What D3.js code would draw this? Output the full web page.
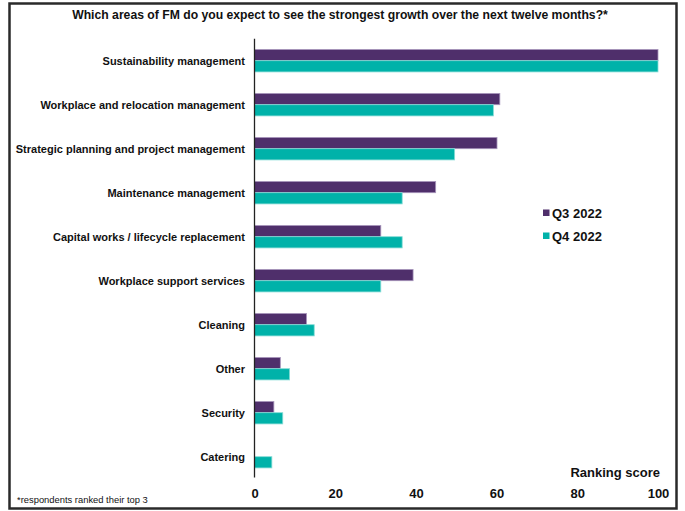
<!DOCTYPE html>
<html>
<head>
<meta charset="utf-8">
<script src="https://cdn.jsdelivr.net/npm/d3@7/dist/d3.min.js"></script>
<style>
  html, body { margin: 0; padding: 0; background: #fff; }
  svg { display: block; }
  text { font-family: "Liberation Sans", Arial, sans-serif; fill: #111; }
</style>
</head>
<body>
<svg id="chart" width="685" height="511"></svg>
<script>
// Survey areas, top to bottom
const categories = [
  "Sustainability management",
  "Workplace and relocation management",
  "Strategic planning and project management",
  "Maintenance management",
  "Capital works / lifecycle replacement",
  "Workplace support services",
  "Cleaning",
  "Other",
  "Security",
  "Catering"
];
const seriesNames = ["Q3 2022", "Q4 2022"];
const q3Values = [100, 60.8, 60.1, 44.9, 31.3, 39.3, 12.9, 6.4, 4.8, 0];
const q4Values = [100, 59.2, 49.6, 36.6, 36.6, 31.3, 14.8, 8.7, 7.0, 4.3];
const xTicks = [0, 20, 40, 60, 80, 100];

const colors = ["#4f2f6b", "#00b2a9"];
const edgeColors = ["#a795bb", "#86dcd6"];

const svg = d3.select("#chart");

// outer frame
svg.append("rect")
  .attr("x", 9.5).attr("y", 3.5)
  .attr("width", 667).attr("height", 505)
  .attr("fill", "none").attr("stroke", "#2a2a2a").attr("stroke-width", 2.5);

const x = d3.scaleLinear().domain([0, 100]).range([254.5, 658]);
const y = d3.scaleBand().domain(categories).range([38.7, 478.7]).paddingInner(0.49).paddingOuter(0.245);
const sub = d3.scaleBand().domain(seriesNames).range([0, y.bandwidth()]);

const rows = categories.map((c, i) => ({ c, vals: [q3Values[i], q4Values[i]] }));

const g = svg.append("g");
const row = g.selectAll("g.row").data(rows).join("g")
  .attr("class", "row")
  .attr("transform", d => `translate(0,${y(d.c)})`);

row.selectAll("rect")
  .data(d => d.vals.map((v, k) => ({ v, k })).filter(e => e.v > 0))
  .join("rect")
  .attr("x", x(0))
  .attr("y", e => sub(seriesNames[e.k]))
  .attr("width", e => x(e.v) - x(0))
  .attr("height", sub.bandwidth())
  .attr("fill", e => colors[e.k])
  .attr("stroke", e => edgeColors[e.k])
  .attr("stroke-width", 0.8);

// category labels
g.selectAll("text.cat").data(categories).join("text")
  .attr("class", "cat")
  .attr("x", 245)
  .attr("y", d => y(d) + y.bandwidth() / 2)
  .attr("dy", "0.35em")
  .attr("text-anchor", "end")
  .attr("font-size", 11)
  .attr("font-weight", "bold")
  .text(d => d);

// vertical axis line
svg.append("line")
  .attr("x1", x(0)).attr("x2", x(0))
  .attr("y1", 38.7).attr("y2", 477.5)
  .attr("stroke", "#222").attr("stroke-width", 1.3);

// x tick labels
const xAxis = d3.axisBottom(x).tickValues(xTicks).tickSize(0).tickPadding(0);
const ax = svg.append("g").attr("transform", "translate(0,489)").call(xAxis);
ax.select(".domain").remove();
ax.selectAll("text")
  .attr("font-size", 13).attr("font-weight", "bold")
  .attr("font-family", "Liberation Sans, Arial, sans-serif")
  .attr("fill", "#111").attr("dy", "0.72em");

// axis title
svg.append("text")
  .attr("x", 660).attr("y", 477)
  .attr("text-anchor", "end")
  .attr("font-size", 13).attr("font-weight", "bold")
  .text("Ranking score");

// legend
const leg = svg.append("g");
seriesNames.forEach((s, k) => {
  const ly = 213 + k * 23;
  leg.append("rect")
    .attr("x", 543).attr("y", ly - 3.5)
    .attr("width", 6.5).attr("height", 6.5)
    .attr("fill", colors[k]);
  leg.append("text")
    .attr("x", 552).attr("y", ly)
    .attr("dy", "0.36em")
    .attr("font-size", 13).attr("font-weight", "bold")
    .text(s);
});

// title
svg.append("text")
  .attr("x", 340).attr("y", 19)
  .attr("text-anchor", "middle")
  .attr("font-size", 12.2).attr("font-weight", "bold")
  .text("Which areas of FM do you expect to see the strongest growth over the next twelve months?*");

// footnote
svg.append("text")
  .attr("x", 17).attr("y", 503)
  .attr("font-size", 9.4)
  .text("*respondents ranked their top 3");
</script>
</body>
</html>
